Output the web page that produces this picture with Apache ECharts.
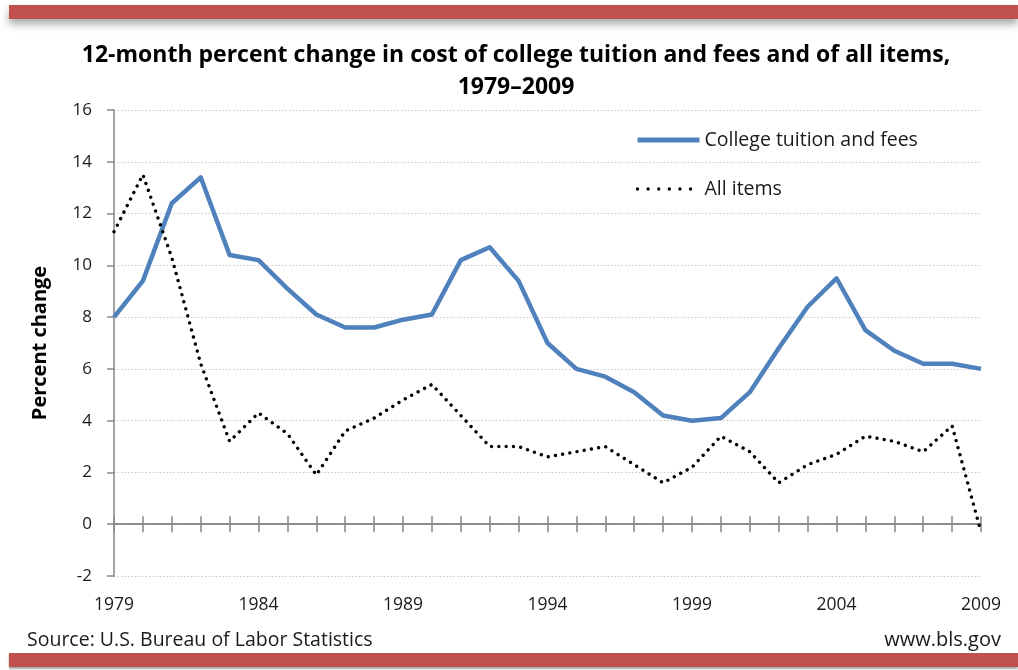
<!DOCTYPE html>
<html>
<head>
<meta charset="utf-8">
<style>
  html, body { margin: 0; padding: 0; background: #ffffff; }
  #chart { width: 1018px; height: 670px; }
</style>
<script src="https://cdn.jsdelivr.net/npm/echarts@6/dist/echarts.min.js"></script>
</head>
<body>
<div id="chart"></div>
<script>
const years = ['1979','1980','1981','1982','1983','1984','1985','1986','1987','1988','1989','1990','1991','1992','1993','1994','1995','1996','1997','1998','1999','2000','2001','2002','2003','2004','2005','2006','2007','2008','2009'];
const tuition = [8.0,9.4,12.4,13.4,10.4,10.2,9.1,8.1,7.6,7.6,7.9,8.1,10.2,10.7,9.4,7.0,6.0,5.7,5.1,4.2,4.0,4.1,5.1,6.8,8.4,9.5,7.5,6.7,6.2,6.2,6.0];
const allItems = [11.3,13.5,10.3,6.2,3.2,4.3,3.5,1.9,3.6,4.1,4.8,5.4,4.2,3.0,3.0,2.6,2.8,3.0,2.3,1.6,2.2,3.4,2.8,1.6,2.3,2.7,3.4,3.2,2.8,3.8,-0.3];
const seriesNames = ['College tuition and fees', 'All items'];
const titleText = '12-month percent change in cost of college tuition and fees and of all items,\n1979\u20132009';
const yTitle = 'Percent change';
const sourceText = 'Source: U.S. Bureau of Labor Statistics';
const siteText = 'www.bls.gov';

const FONT = 'Open Sans';
const AXIS_COLOR = '#868686';
const TEXT_COLOR = '#1a1a1a';
const BLUE = '#4f81bd';

const chart = echarts.init(document.getElementById('chart'), null, { renderer: 'canvas' });

const xBase = {
  type: 'category',
  data: years,
  boundaryGap: false,
  splitLine: { show: false }
};

const yBase = {
  type: 'value',
  min: -2,
  max: 16,
  interval: 2
};

chart.setOption({
  animation: false,
  backgroundColor: '#ffffff',
  textStyle: { fontFamily: FONT },
  title: [
    {
      text: titleText,
      left: 516,
      textAlign: 'center',
      top: 39,
      padding: 0,
      textStyle: { fontFamily: FONT, fontSize: 23, fontWeight: 'bold', color: '#000000', lineHeight: 32 }
    },
    {
      text: sourceText,
      left: 27,
      top: 629,
      padding: 0,
      textStyle: { fontFamily: FONT, fontSize: 19.5, fontWeight: 'normal', color: TEXT_COLOR, lineHeight: 22 }
    },
    {
      text: siteText,
      right: 17,
      top: 629,
      padding: 0,
      textStyle: { fontFamily: FONT, fontSize: 20, fontWeight: 'normal', color: TEXT_COLOR, lineHeight: 22 }
    }
  ],
  graphic: [
    {
      type: 'rect',
      shape: { x: 9, y: 5, width: 1009, height: 14 },
      style: { fill: '#c0504d', shadowBlur: 8, shadowColor: 'rgba(0,0,0,0.35)', shadowOffsetY: 5 },
      z: 10
    },
    {
      type: 'rect',
      shape: { x: 9, y: 653, width: 1009, height: 14 },
      style: { fill: '#c0504d', shadowBlur: 2, shadowColor: 'rgba(0,0,0,0.35)', shadowOffsetY: 1.5 },
      z: 10
    }
  ],
  legend: {
    data: [
      { name: seriesNames[0], lineStyle: { color: BLUE, width: 5 } },
      { name: seriesNames[1], lineStyle: { color: '#000000', width: 3.4, type: [0.01, 10.6], cap: 'round' } }
    ],
    orient: 'vertical',
    left: 635,
    top: 130,
    padding: 0,
    itemWidth: 62,
    itemHeight: 14,
    itemGap: 29,
    itemStyle: { opacity: 0 },
    textStyle: { fontFamily: FONT, fontSize: 19.5, color: TEXT_COLOR, lineHeight: 20 }
  },
  grid: { left: 114, right: 37, top: 110, bottom: 94, containLabel: false },
  xAxis: [
    Object.assign({}, xBase, {
      position: 'bottom',
      axisLine: { show: true, onZero: true, lineStyle: { color: AXIS_COLOR, width: 1.5 } },
      axisTick: { show: true, interval: 0, length: 8, alignWithLabel: true, lineStyle: { color: AXIS_COLOR, width: 1.5 } },
      axisLabel: { interval: 4, margin: 20, fontFamily: FONT, fontSize: 17.5, color: TEXT_COLOR, showMinLabel: true, showMaxLabel: true }
    }),
    Object.assign({}, xBase, {
      position: 'top',
      axisLine: { show: true, onZero: true, onZeroAxisIndex: 1, lineStyle: { color: AXIS_COLOR, width: 1.5 } },
      axisTick: { show: true, interval: 0, length: 8, lineStyle: { color: AXIS_COLOR, width: 1.5 } },
      axisLabel: { show: false }
    })
  ],
  yAxis: [
    Object.assign({}, yBase, {
      name: yTitle,
      nameLocation: 'middle',
      nameRotate: 90,
      nameGap: 64,
      nameTextStyle: { fontFamily: FONT, fontSize: 20, fontWeight: 'bold', color: '#000000' },
      axisLine: { show: true, onZero: false, lineStyle: { color: AXIS_COLOR, width: 1.5 } },
      axisTick: { show: true, length: 7, lineStyle: { color: AXIS_COLOR, width: 1.5 } },
      axisLabel: { margin: 22, fontFamily: FONT, fontSize: 17, color: TEXT_COLOR },
      splitLine: { show: true, lineStyle: { color: '#c8c8c8', width: 1, type: [1.5, 2] } }
    }),
    Object.assign({}, yBase, {
      show: false,
      splitLine: { show: false }
    })
  ],
  series: [
    {
      name: seriesNames[0],
      type: 'line',
      data: tuition,
      xAxisIndex: 0,
      yAxisIndex: 0,
      symbol: 'none',
      showSymbol: false,
      lineStyle: { color: BLUE, width: 4.5, join: 'round' },
      itemStyle: { color: BLUE },
      z: 3
    },
    {
      name: seriesNames[1],
      type: 'line',
      data: allItems,
      xAxisIndex: 0,
      yAxisIndex: 0,
      symbol: 'none',
      showSymbol: false,
      lineStyle: { color: '#000000', width: 3.4, type: [0.01, 7.3], cap: 'round' },
      itemStyle: { color: '#000000' },
      z: 4
    }
  ]
});
</script>
</body>
</html>
